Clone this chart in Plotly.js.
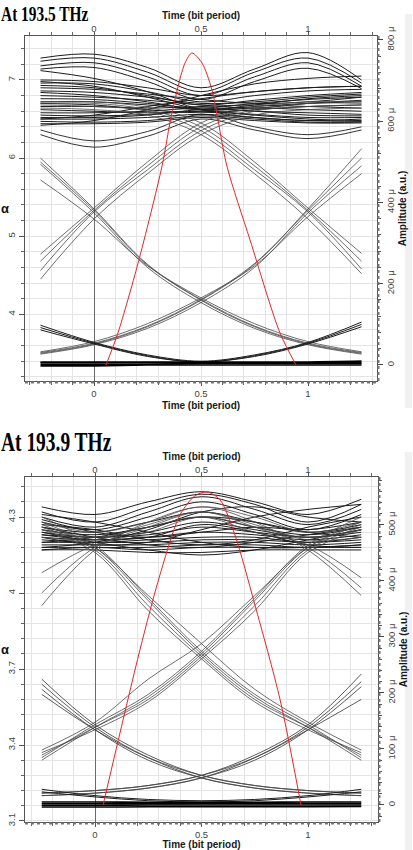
<!DOCTYPE html>
<html>
<head>
<meta charset="utf-8">
<script src="https://cdn.plot.ly/plotly-3.0.1.min.js"></script>
<style>
html,body{margin:0;padding:0;background:#fff;}
#chart{width:413px;height:850px;}
</style>
</head>
<body>
<div id="chart"></div>
<script>
// ---------------- data ----------------
const timeSamples = [-0.25, 0, 0.25, 0.5, 0.75, 1, 1.25];
const timeTicks = [0, 0.5, 1];
const timeTickText = ['0', '0.5', '1'];

// ---- At 193.5 THz (left axis: alpha) ----
const alphaTicks1935 = [4, 5, 6, 7];
const alphaTickText1935 = ['4', '5', '6', '7'];
const ampTicks1935 = [0, 200, 400, 600, 800];
const ampTickText1935 = ['0', '200 μ', '400 μ', '600 μ', '800 μ'];

const upperArcs1935 = [
  [7.28, 7.33, 7.16, 6.90, 7.14, 7.35, 7.00],
  [7.24, 7.28, 7.10, 6.85, 7.10, 7.28, 6.96],
  [7.18, 7.22, 7.04, 6.80, 7.04, 7.22, 6.92],
  [7.14, 7.16, 6.98, 6.75, 6.98, 7.15, 6.89]
];
const upperBand1935 = [
  [7.00, 6.98, 6.90, 6.80, 6.85, 6.90, 6.92],
  [6.96, 6.95, 6.85, 6.72, 6.80, 6.86, 6.88],
  [6.93, 6.90, 6.80, 6.68, 6.74, 6.80, 6.84],
  [6.90, 6.88, 6.82, 6.75, 6.70, 6.72, 6.78],
  [6.86, 6.84, 6.78, 6.70, 6.72, 6.78, 6.82],
  [6.84, 6.80, 6.72, 6.62, 6.68, 6.76, 6.80],
  [6.80, 6.78, 6.74, 6.68, 6.64, 6.70, 6.74],
  [6.76, 6.75, 6.70, 6.64, 6.70, 6.75, 6.78],
  [6.72, 6.72, 6.68, 6.62, 6.66, 6.70, 6.72],
  [6.70, 6.68, 6.62, 6.58, 6.62, 6.66, 6.68],
  [6.66, 6.66, 6.64, 6.66, 6.68, 6.66, 6.64],
  [6.62, 6.60, 6.58, 6.60, 6.64, 6.62, 6.60],
  [6.58, 6.58, 6.60, 6.64, 6.60, 6.58, 6.56],
  [6.55, 6.54, 6.56, 6.60, 6.56, 6.52, 6.52],
  [6.52, 6.52, 6.55, 6.62, 6.60, 6.55, 6.54],
  [6.50, 6.50, 6.52, 6.56, 6.52, 6.48, 6.50],
  [6.47, 6.46, 6.48, 6.54, 6.50, 6.46, 6.46],
  [6.44, 6.44, 6.46, 6.52, 6.48, 6.45, 6.45],
  [6.98, 6.92, 6.78, 6.62, 6.55, 6.50, 6.48],
  [6.50, 6.55, 6.66, 6.76, 6.85, 6.90, 6.92],
  [7.12, 7.02, 6.85, 6.62, 6.52, 6.48, 6.47],
  [6.42, 6.48, 6.62, 6.80, 6.95, 7.02, 7.05]
];
const upperDips1935 = [
  [6.30, 6.14, 6.28, 6.50, 6.36, 6.25, 6.36],
  [6.36, 6.22, 6.34, 6.56, 6.40, 6.30, 6.40]
];
const fallingFromLeft1935 = [
  [6.00, 5.35, 4.64, 4.18, 3.84, 3.62, 3.50],
  [5.95, 5.33, 4.63, 4.19, 3.85, 3.63, 3.51],
  [5.92, 5.30, 4.60, 4.15, 3.82, 3.61, 3.49],
  [5.72, 5.22, 4.62, 4.21, 3.88, 3.65, 3.52]
];
const risingToRight1935 = [
  [3.50, 3.62, 3.84, 4.18, 4.64, 5.35, 6.12],
  [3.51, 3.63, 3.85, 4.19, 4.65, 5.33, 6.00],
  [3.49, 3.61, 3.82, 4.15, 4.60, 5.30, 5.90],
  [3.52, 3.65, 3.88, 4.21, 4.62, 5.25, 5.80]
];
const risingToBand1935 = [
  [4.77, 5.36, 5.95, 6.45, 6.65, 6.72, 6.72],
  [4.68, 5.33, 5.90, 6.40, 6.62, 6.70, 6.70],
  [4.56, 5.31, 5.85, 6.35, 6.60, 6.66, 6.68],
  [4.45, 5.22, 5.80, 6.30, 6.55, 6.62, 6.64]
];
const fallingFromBand1935 = [
  [6.72, 6.72, 6.65, 6.45, 5.95, 5.36, 4.78],
  [6.70, 6.70, 6.62, 6.40, 5.90, 5.33, 4.68],
  [6.68, 6.66, 6.60, 6.35, 5.85, 5.31, 4.58],
  [6.64, 6.62, 6.55, 6.30, 5.80, 5.22, 4.52]
];
const lowerBowls1935 = [
  [3.86, 3.64, 3.48, 3.40, 3.48, 3.64, 3.90],
  [3.83, 3.63, 3.47, 3.39, 3.47, 3.63, 3.87],
  [3.80, 3.62, 3.46, 3.39, 3.46, 3.62, 3.84]
];
const zeroLevel1935 = [
  [3.34, 3.34, 3.35, 3.35, 3.35, 3.35, 3.35],
  [3.36, 3.36, 3.36, 3.37, 3.37, 3.37, 3.37],
  [3.38, 3.38, 3.38, 3.38, 3.38, 3.38, 3.38],
  [3.39, 3.39, 3.39, 3.39, 3.39, 3.39, 3.40]
];
const pulseTime1935 = [0.056, 0.112, 0.206, 0.318, 0.364, 0.425, 0.458, 0.505, 0.551, 0.621, 0.729, 0.869, 0.944];
const pulseAmp1935  = [0, 79, 251, 490, 620, 743, 768, 743, 677, 490, 308, 79, 0];

// ---- At 193.9 THz ----
const alphaTicks1939 = [3.1, 3.4, 3.7, 4, 4.3];
const alphaTickText1939 = ['3.1', '3.4', '3.7', '4', '4.3'];
const ampTicks1939 = [0, 100, 200, 300, 400, 500];
const ampTickText1939 = ['0', '100 μ', '200 μ', '300 μ', '400 μ', '500 μ'];

const upperArcs1939 = [
  [4.34, 4.31, 4.36, 4.40, 4.36, 4.31, 4.37],
  [4.32, 4.28, 4.34, 4.39, 4.35, 4.28, 4.35],
  [4.30, 4.26, 4.32, 4.38, 4.33, 4.27, 4.33],
  [4.28, 4.25, 4.30, 4.36, 4.31, 4.25, 4.31]
];
const upperBand1939 = [
  [4.26, 4.24, 4.28, 4.32, 4.28, 4.24, 4.27],
  [4.25, 4.23, 4.26, 4.30, 4.26, 4.23, 4.26],
  [4.24, 4.22, 4.24, 4.28, 4.25, 4.22, 4.25],
  [4.23, 4.22, 4.23, 4.26, 4.24, 4.22, 4.24],
  [4.22, 4.21, 4.22, 4.24, 4.23, 4.21, 4.23],
  [4.21, 4.20, 4.21, 4.22, 4.22, 4.20, 4.22],
  [4.20, 4.20, 4.20, 4.21, 4.21, 4.20, 4.21],
  [4.19, 4.19, 4.19, 4.20, 4.20, 4.19, 4.20],
  [4.18, 4.18, 4.18, 4.19, 4.19, 4.18, 4.19],
  [4.17, 4.18, 4.17, 4.18, 4.18, 4.18, 4.18],
  [4.17, 4.17, 4.16, 4.16, 4.17, 4.17, 4.17],
  [4.20, 4.22, 4.26, 4.30, 4.28, 4.24, 4.22],
  [4.26, 4.22, 4.19, 4.18, 4.20, 4.23, 4.26],
  [4.24, 4.20, 4.17, 4.15, 4.17, 4.21, 4.25],
  [4.29, 4.24, 4.22, 4.24, 4.26, 4.25, 4.28],
  [4.22, 4.19, 4.20, 4.25, 4.30, 4.33, 4.35],
  [4.31, 4.28, 4.24, 4.20, 4.18, 4.18, 4.19],
  [4.18, 4.20, 4.25, 4.32, 4.34, 4.30, 4.28],
  [4.27, 4.25, 4.21, 4.19, 4.21, 4.26, 4.30],
  [4.23, 4.21, 4.22, 4.27, 4.24, 4.19, 4.18]
];
const risingIntoKnot1939 = [
  [4.08, 4.19, 4.24, 4.30, 4.26, 4.22, 4.25],
  [4.00, 4.18, 4.26, 4.32, 4.27, 4.21, 4.22],
  [3.95, 4.17, 4.28, 4.34, 4.30, 4.24, 4.28]
];
const fallingOutOfKnot1939 = [
  [4.25, 4.22, 4.26, 4.30, 4.24, 4.19, 4.06],
  [4.22, 4.21, 4.27, 4.32, 4.26, 4.18, 4.02],
  [4.28, 4.24, 4.28, 4.34, 4.28, 4.17, 3.99]
];
const fallingFromBand1939 = [
  [4.30, 4.19, 3.98, 3.77, 3.60, 3.48, 3.35],
  [4.28, 4.18, 3.97, 3.76, 3.59, 3.47, 3.34],
  [4.26, 4.17, 3.95, 3.75, 3.58, 3.47, 3.36],
  [4.25, 4.16, 3.93, 3.74, 3.57, 3.46, 3.37],
  [4.27, 4.18, 3.99, 3.80, 3.62, 3.49, 3.38]
];
const risingToBand1939 = [
  [3.35, 3.48, 3.60, 3.77, 3.98, 4.19, 4.30],
  [3.34, 3.47, 3.59, 3.76, 3.97, 4.18, 4.28],
  [3.36, 3.47, 3.58, 3.75, 3.95, 4.17, 4.26],
  [3.37, 3.46, 3.57, 3.74, 3.93, 4.16, 4.25],
  [3.38, 3.49, 3.66, 3.80, 3.99, 4.18, 4.27]
];
const fallingTails1939 = [
  [3.66, 3.48, 3.36, 3.28, 3.24, 3.22, 3.21],
  [3.64, 3.47, 3.35, 3.27, 3.23, 3.21, 3.20],
  [3.62, 3.46, 3.34, 3.27, 3.23, 3.21, 3.20],
  [3.60, 3.46, 3.35, 3.28, 3.24, 3.22, 3.21]
];
const risingTails1939 = [
  [3.21, 3.22, 3.24, 3.28, 3.36, 3.48, 3.68],
  [3.20, 3.21, 3.23, 3.27, 3.35, 3.47, 3.65],
  [3.20, 3.21, 3.23, 3.27, 3.34, 3.46, 3.63],
  [3.21, 3.22, 3.24, 3.28, 3.35, 3.46, 3.58]
];
const lowerBowls1939 = [
  [3.225, 3.20, 3.185, 3.18, 3.185, 3.20, 3.225],
  [3.215, 3.195, 3.18, 3.175, 3.18, 3.195, 3.215]
];
const zeroLevel1939 = [
  [3.155, 3.155, 3.156, 3.156, 3.156, 3.156, 3.157],
  [3.162, 3.162, 3.163, 3.163, 3.163, 3.163, 3.163],
  [3.168, 3.168, 3.168, 3.169, 3.169, 3.169, 3.169],
  [3.175, 3.175, 3.174, 3.174, 3.174, 3.175, 3.175]
];
const pulseTime1939 = [0.038, 0.211, 0.305, 0.399, 0.469, 0.526, 0.587, 0.657, 0.751, 0.869, 0.967];
const pulseAmp1939  = [0, 277, 411, 518, 552, 559, 545, 482, 357, 188, 0];

// ---------------- traces ----------------
const traces = [];
function addFamily(list, xa, ya, color, width) {
  list.forEach(vals => {
    traces.push({
      type: 'scatter', mode: 'lines', x: timeSamples, y: vals,
      xaxis: xa, yaxis: ya,
      line: {color: color, width: width, shape: 'spline', smoothing: 1},
      showlegend: false, hoverinfo: 'skip'
    });
  });
}
const DARK = '#1c1c1c', MID = '#4a4a4a';
// 193.5
addFamily(upperBand1935, 'x', 'y', DARK, 1);
addFamily(upperArcs1935, 'x', 'y', DARK, 1);
addFamily(upperDips1935, 'x', 'y', DARK, 0.9);
addFamily(fallingFromLeft1935, 'x', 'y', MID, 0.8);
addFamily(risingToRight1935, 'x', 'y', MID, 0.8);
addFamily(risingToBand1935, 'x', 'y', MID, 0.8);
addFamily(fallingFromBand1935, 'x', 'y', MID, 0.8);
addFamily(lowerBowls1935, 'x', 'y', DARK, 1);
addFamily(zeroLevel1935, 'x', 'y', '#000', 1.6);
traces.push({type:'scatter', mode:'lines', x: pulseTime1935, y: pulseAmp1935, xaxis:'x2', yaxis:'y2',
  line:{color:'#ee2222', width:1, shape:'spline', smoothing:0.8}, showlegend:false, hoverinfo:'skip'});
// 193.9
addFamily(upperBand1939, 'x3', 'y3', DARK, 1);
addFamily(upperArcs1939, 'x3', 'y3', DARK, 1);
addFamily(risingIntoKnot1939, 'x3', 'y3', MID, 0.8);
addFamily(fallingOutOfKnot1939, 'x3', 'y3', MID, 0.8);
addFamily(fallingFromBand1939, 'x3', 'y3', MID, 0.8);
addFamily(risingToBand1939, 'x3', 'y3', MID, 0.8);
addFamily(fallingTails1939, 'x3', 'y3', MID, 0.9);
addFamily(risingTails1939, 'x3', 'y3', MID, 0.9);
addFamily(lowerBowls1939, 'x3', 'y3', DARK, 1);
addFamily(zeroLevel1939, 'x3', 'y3', '#000', 1.6);
traces.push({type:'scatter', mode:'lines', x: pulseTime1939, y: pulseAmp1939, xaxis:'x4', yaxis:'y4',
  line:{color:'#ee2222', width:1, shape:'spline', smoothing:0.8}, showlegend:false, hoverinfo:'skip'});

// ---------------- layout ----------------
const W = 413, H = 850;
const px = v => v / W;
const py = v => 1 - v / H;
const SANS = 'Arial, "Liberation Sans", sans-serif';
const SERIF = '"Liberation Serif", "Times New Roman", serif';
const tickFont = {family: SANS, size: 9.5, color: '#444'};
const axTitleFont = {family: SANS, size: 10, color: '#1a1a1a', weight: 'bold'};
const gridC = '#e4e4e4';

function timeAxis(domain, range, anchor, side, overlay) {
  const a = {
    domain: domain, range: range, anchor: anchor, side: side,
    tickmode: 'array', tickvals: timeTicks, ticktext: timeTickText,
    ticks: 'outside', ticklen: overlay ? 3 : 4, tickcolor: '#555',
    minor: {tickmode: 'linear', tick0: 0, dtick: 0.1, ticks: 'outside', ticklen: 3, tickcolor: '#666',
            showgrid: !overlay, gridcolor: gridC, gridwidth: 1},
    showgrid: !overlay, gridcolor: gridC,
    zeroline: !overlay, zerolinecolor: '#6a6a6a', zerolinewidth: 1,
    showline: true, linecolor: '#555', linewidth: 1,
    tickfont: tickFont, automargin: false, fixedrange: true,
    title: {text: 'Time (bit period)', font: axTitleFont, standoff: overlay ? 1 : 3}
  };
  if (overlay) { a.overlaying = overlay; a.ticklabelstandoff = -4; }
  return a;
}
function alphaAxis(domain, range, vals, text, minorStep, minor0, anchor) {
  return {
    domain: domain, range: range, anchor: anchor, side: 'left',
    tickmode: 'array', tickvals: vals, ticktext: text, tickangle: -90,
    ticks: 'outside', ticklen: 5, tickcolor: '#555',
    minor: {tickmode: 'linear', tick0: minor0, dtick: minorStep, ticks: 'outside', ticklen: 3, tickcolor: '#666',
            showgrid: true, gridcolor: gridC, gridwidth: 1},
    showgrid: true, gridcolor: gridC, zeroline: false,
    showline: true, linecolor: '#555', linewidth: 1,
    tickfont: tickFont, automargin: false, fixedrange: true
  };
}
function ampAxis(domain, range, vals, text, minorStep, anchor, overlay) {
  return {
    domain: domain, range: range, anchor: anchor, side: 'right', overlaying: overlay,
    tickmode: 'array', tickvals: vals, ticktext: text, tickangle: -90,
    ticks: 'outside', ticklen: 5, tickcolor: '#444',
    minor: {tickmode: 'linear', tick0: 0, dtick: minorStep, ticks: 'outside', ticklen: 3, tickcolor: '#555', showgrid: false},
    showgrid: false, zeroline: false,
    showline: true, linecolor: '#555', linewidth: 1,
    tickfont: tickFont, automargin: false, fixedrange: true,
    title: {text: 'Amplitude (a.u.)', font: axTitleFont, standoff: 3}
  };
}

const topX = [px(25), px(377)], topY = [py(381), py(36)];
const botX = [px(25), px(378)], botY = [py(822), py(477)];

const layout = {
  width: W, height: H, autosize: false,
  margin: {l: 0, r: 0, t: 0, b: 0},
  paper_bgcolor: '#fff', plot_bgcolor: 'rgba(0,0,0,0)',
  showlegend: false,
  xaxis:  timeAxis(topX, [-0.3224, 1.3224], 'y', 'bottom', null),
  xaxis2: timeAxis(topX, [-0.3224, 1.3224], 'y2', 'top', 'x'),
  yaxis:  alphaAxis(topY, [3.146, 7.563], alphaTicks1935, alphaTickText1935, 0.2, 0, 'x'),
  yaxis2: ampAxis(topY, [-39.4, 809.8], ampTicks1935, ampTickText1935, 40, 'x2', 'y'),
  xaxis3: timeAxis(botX, [-0.3286, 1.3286], 'y3', 'bottom', null),
  xaxis4: timeAxis(botX, [-0.3286, 1.3286], 'y4', 'top', 'x3'),
  yaxis3: alphaAxis(botY, [3.096, 4.458], alphaTicks1939, alphaTickText1939, 0.06, 3.1, 'x3'),
  yaxis4: ampAxis(botY, [-30.4, 585.7], ampTicks1939, ampTickText1939, 20, 'x4', 'y3'),
  shapes: [
    {type:'rect', xref:'paper', yref:'paper', x0:px(405), x1:px(412), y0:py(408), y1:py(14), fillcolor:'#f1f1f1', line:{width:0}, layer:'below'},
    {type:'rect', xref:'paper', yref:'paper', x0:px(405), x1:px(412), y0:py(850), y1:py(452), fillcolor:'#f1f1f1', line:{width:0}, layer:'below'},
    {type:'line', xref:'paper', yref:'paper', x0:topX[0], x1:topX[1], y0:py(382.5), y1:py(382.5), line:{color:'#777', width:2, dash:'dot'}},
    {type:'line', xref:'paper', yref:'paper', x0:px(378.5), x1:px(378.5), y0:topY[0], y1:topY[1], line:{color:'#777', width:2, dash:'dot'}},
    {type:'line', xref:'paper', yref:'paper', x0:botX[0], x1:botX[1], y0:py(823.5), y1:py(823.5), line:{color:'#777', width:2, dash:'dot'}},
    {type:'line', xref:'paper', yref:'paper', x0:px(379.5), x1:px(379.5), y0:botY[0], y1:botY[1], line:{color:'#777', width:2, dash:'dot'}}
  ],
  annotations: [
    {text:'At 193.5 THz', xref:'paper', yref:'paper', x:0, y:1, xanchor:'left', yanchor:'top', borderpad:0, showarrow:false,
     font:{family: SERIF, size:22, color:'#000', weight:'bold'}},
    {text:'At 193.9 THz', xref:'paper', yref:'paper', x:0, y:py(442), xanchor:'left', yanchor:'middle', borderpad:0, showarrow:false,
     font:{family: SERIF, size:27, color:'#000', weight:'bold'}},
    {text:'α', xref:'paper', yref:'paper', x:px(5), y:py(208), xanchor:'center', yanchor:'middle', showarrow:false,
     font:{family: SANS, size:13, color:'#111', weight:'bold'}},
    {text:'α', xref:'paper', yref:'paper', x:px(5), y:py(649), xanchor:'center', yanchor:'middle', showarrow:false,
     font:{family: SANS, size:13, color:'#111', weight:'bold'}}
  ]
};

Plotly.newPlot('chart', traces, layout, {staticPlot: true, displayModeBar: false}).then(gd => {
  gd.querySelectorAll('text.annotation-text').forEach(t => {
    const s = t.textContent;
    if (s === 'At 193.5 THz' || s === 'At 193.9 THz') {
      const k = s === 'At 193.5 THz' ? 0.7 : 0.72;
      const b = t.getBBox();
      t.setAttribute('transform', 'translate(' + b.x + ',0) scale(' + k + ',1) translate(' + (-b.x) + ',0)');
    }
  });
});
</script>
</body>
</html>
